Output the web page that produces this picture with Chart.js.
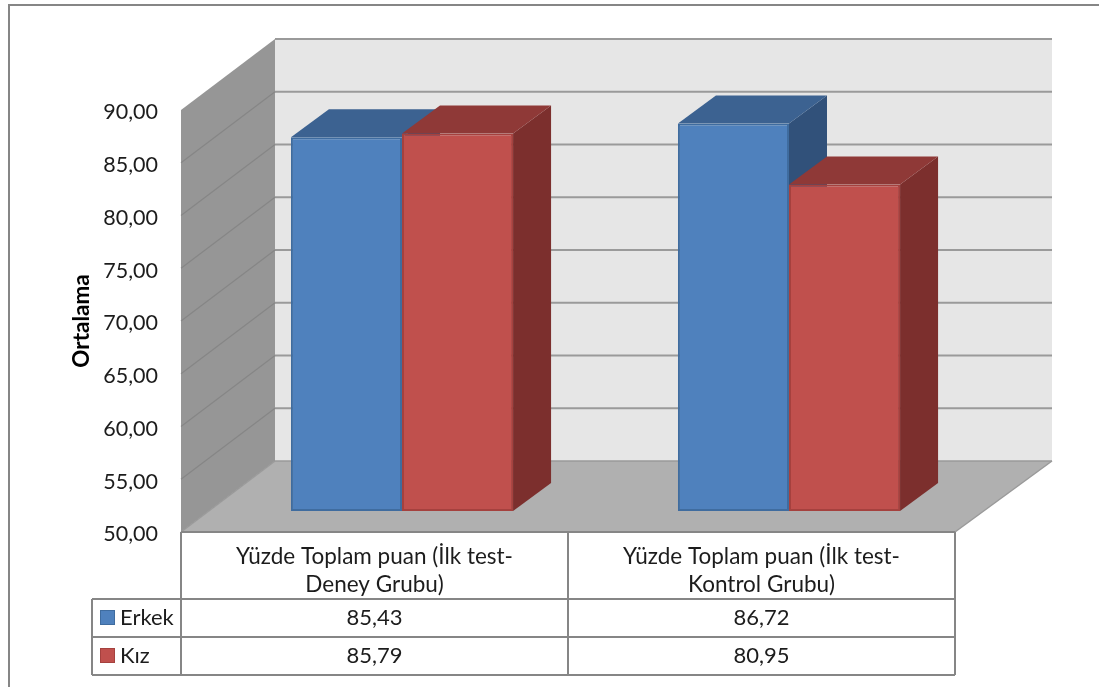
<!DOCTYPE html>
<html>
<head>
<meta charset="utf-8">
<title>Ortalama</title>
<script src="https://cdn.jsdelivr.net/npm/chart.js"></script>
<style>
  html, body { margin: 0; padding: 0; background: #fff; overflow: hidden; }
  canvas { display: block; }
</style>
</head>
<body>
<canvas id="meanChart" width="1099" height="687"></canvas>
<script>
// Chart data
const categories = [
    ['Yüzde Toplam puan (İlk test-', 'Deney Grubu)'],
    ['Yüzde Toplam puan (İlk test-', 'Kontrol Grubu)']
];
const erkekValues = [85.43, 86.72];
const kizValues = [85.79, 80.95];
const seriesNames = ['Erkek', 'Kız'];

// Box depth in pixels
const wallDx = 94, wallDy = -71, wallDxRight = 97;
const barShiftX = 27.5, barShiftY = -21;
const barDx = 38, barDy = -28;

const lineGray = '#868686';
const textColor = '#1c1c1c';
const fontName = 'Lato, "Noto Sans", sans-serif';
const fills = ['#4f81bd', '#c0504d'];
const edges = ['#3f6c9f', '#a5413e'];
const tops = ['#3c6291', '#8f3937'];
const sides = ['#31517a', '#7c2f2d'];

const comma = v => v.toFixed(2).replace('.', ',');

function poly(ctx, pts, fill) {
    ctx.beginPath();
    pts.forEach((p, i) => i ? ctx.lineTo(p[0], p[1]) : ctx.moveTo(p[0], p[1]));
    ctx.closePath();
    ctx.fillStyle = fill;
    ctx.fill();
}

function seg(ctx, x1, y1, x2, y2) {
    ctx.beginPath();
    ctx.moveTo(x1, y1);
    ctx.lineTo(x2, y2);
    ctx.stroke();
}

// Outer frame, open on the right and at the bottom
const framePlugin = {
    id: 'frame',
    beforeDraw(chart) {
        const ctx = chart.ctx;
        ctx.save();
        ctx.strokeStyle = lineGray;
        ctx.lineWidth = 2;
        ctx.beginPath();
        ctx.moveTo(9, 687);
        ctx.lineTo(9, 5);
        ctx.lineTo(1099, 5);
        ctx.stroke();
        ctx.restore();

        // Lato sits high on a middle baseline, nudge the y labels down
        chart.scales.y.getLabelItems().forEach(item => {
            item.options.translation[1] += 2.5;
        });
    }
};

// Walls, floor, gridlines and the side and top faces of the bars
const boxPlugin = {
    id: 'box',
    beforeDatasetsDraw(chart) {
        const ctx = chart.ctx;
        const { left, right, top, bottom } = chart.chartArea;
        const backLeft = left + wallDx, backRight = right + wallDxRight;

        ctx.save();
        poly(ctx, [[backLeft, top + wallDy], [backRight, top + wallDy], [backRight, bottom + wallDy], [backLeft, bottom + wallDy]], '#e6e6e6');
        poly(ctx, [[left, top], [backLeft, top + wallDy], [backLeft, bottom + wallDy], [left, bottom]], '#969696');
        poly(ctx, [[left, bottom], [backLeft, bottom + wallDy], [backRight, bottom + wallDy], [right, bottom]], '#b0b0b0');

        const yScale = chart.scales.y;
        yScale.ticks.forEach(t => {
            const y = yScale.getPixelForValue(t.value);
            if (t.value > 50) {
                ctx.strokeStyle = '#9a9a9a';
                ctx.lineWidth = 2;
                seg(ctx, backLeft, y + wallDy, backRight, y + wallDy);
                if (t.value < 90) {
                    ctx.strokeStyle = '#868686';
                    ctx.lineWidth = 1.2;
                    seg(ctx, left, y, backLeft, y + wallDy);
                }
            }
        });
        ctx.strokeStyle = '#9a9a9a';
        ctx.lineWidth = 1.5;
        seg(ctx, backLeft, bottom + wallDy, backRight, bottom + wallDy);
        seg(ctx, backRight, bottom + wallDy, right, bottom);
        seg(ctx, left, bottom, backLeft, bottom + wallDy);

        // bars sit a little behind the front plane of the box
        ctx.translate(barShiftX, barShiftY);
        chart.data.datasets.forEach((ds, i) => {
            chart.getDatasetMeta(i).data.forEach(bar => {
                const x1 = bar.x - bar.width / 2, x2 = bar.x + bar.width / 2;
                poly(ctx, [[x2, bar.y], [x2 + barDx, bar.y + barDy], [x2 + barDx, bar.base + barDy], [x2, bar.base]], sides[i]);
                poly(ctx, [[x1, bar.y], [x1 + barDx, bar.y + barDy], [x2 + barDx, bar.y + barDy], [x2, bar.y]], tops[i]);
            });
        });
        // leaves the shift on for the bars themselves; afterDatasetsDraw restores it
    },
    afterDatasetsDraw(chart) {
        chart.ctx.restore();
    }
};

// Data table under the plot
const tablePlugin = {
    id: 'table',
    afterDraw(chart) {
        const ctx = chart.ctx;
        const xScale = chart.scales.x;
        const { left, right, bottom } = chart.chartArea;
        const mid = (xScale.getPixelForTick(0) + xScale.getPixelForTick(1)) / 2;
        const keyLeft = 92;
        const rows = [599, 637, 675];
        const values = [erkekValues, kizValues];

        ctx.save();
        ctx.strokeStyle = lineGray;
        ctx.lineWidth = 2;
        seg(ctx, left, bottom, right, bottom);
        seg(ctx, left, bottom, left, rows[2]);
        seg(ctx, mid, bottom, mid, rows[2]);
        seg(ctx, right, bottom, right, rows[2]);
        rows.forEach(y => seg(ctx, keyLeft, y, right, y));
        seg(ctx, keyLeft, rows[0], keyLeft, rows[2]);

        ctx.font = '22px ' + fontName;
        ctx.textBaseline = 'middle';
        seriesNames.forEach((name, i) => {
            const cy = (rows[i] + rows[i + 1]) / 2 - 0.5;
            ctx.fillStyle = fills[i];
            ctx.strokeStyle = edges[i];
            ctx.lineWidth = 1;
            ctx.fillRect(100.5, cy - 7, 14, 14);
            ctx.strokeRect(100.5, cy - 7, 14, 14);

            ctx.fillStyle = textColor;
            ctx.textAlign = 'left';
            ctx.fillText(name, 120, cy);
            ctx.textAlign = 'center';
            values[i].forEach((v, j) => ctx.fillText(comma(v), xScale.getPixelForTick(j), cy));
        });
        ctx.restore();
    }
};

const meanCtx = document.getElementById('meanChart').getContext('2d');
new Chart(meanCtx, {
    type: 'bar',
    data: {
        labels: categories,
        datasets: seriesNames.map((name, i) => ({
            label: name,
            data: i === 0 ? erkekValues : kizValues,
            base: 50,
            backgroundColor: fills[i],
            borderColor: edges[i],
            borderWidth: 2,
            borderSkipped: false,
            categoryPercentage: 0.574,
            barPercentage: 1
        }))
    },
    options: {
        responsive: false,
        animation: false,
        clip: false,
        layout: { padding: { top: 110, right: 144, left: 0, bottom: 0 } },
        plugins: {
            legend: { display: false },
            tooltip: { enabled: false }
        },
        scales: {
            x: {
                afterFit(scale) { scale.height = 155; },
                grid: { display: false, drawTicks: false },
                border: { display: false },
                ticks: {
                    padding: 11,
                    maxRotation: 0,
                    color: textColor,
                    font: { family: fontName, size: 22.5, lineHeight: 1.245 }
                }
            },
            y: {
                min: 50,
                max: 90,
                afterFit(scale) { scale.width = 181; },
                grid: { display: false, drawTicks: false },
                border: { display: false },
                title: {
                    display: true,
                    text: 'Ortalama',
                    color: '#000',
                    padding: { top: 68, bottom: 0 },
                    font: { family: fontName, size: 22.5, weight: 'bold' }
                },
                ticks: {
                    stepSize: 5,
                    padding: 23,
                    color: textColor,
                    font: { family: fontName, size: 21.5 },
                    callback: value => comma(value)
                }
            }
        }
    },
    plugins: [framePlugin, boxPlugin, tablePlugin]
});
</script>
</body>
</html>
